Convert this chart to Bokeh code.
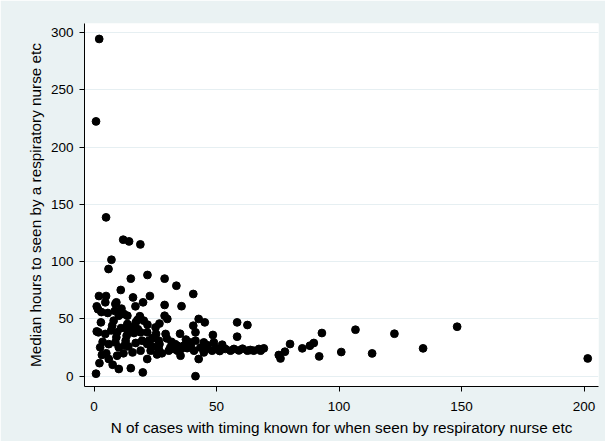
from bokeh.plotting import figure
from bokeh.models import FixedTicker, ColumnDataSource
from bokeh.embed import file_html
from bokeh.resources import INLINE

# N of cases with timing known (x) and median hours to seen by respiratory nurse (y)
n_cases = [
    2.1, 0.8, 4.9, 11.9, 14.3, 18.9, 7.1, 5.9, 21.8, 15.0, 28.8, 33.6, 10.9, 40.5,
    2.0, 4.9, 15.9, 22.8, 20.0, 9.1, 4.6, 8.7, 28.8, 35.7, 16.9, 1.1, 1.6, 11.2,
    12.2, 5.6, 18.7, 28.8, 29.9, 10.1, 13.6, 17.7, 20.3, 8.0, 2.8, 17.0, 13.6, 7.4,
    25.1, 42.7, 45.2, 58.4, 62.6, 40.5, 35.1, 41.4, 48.5, 58.4, 1.1, 1.8, 4.6, 9.4,
    9.1, 13.3, 14.3, 16.3, 19.0, 21.7, 25.3, 29.2, 8.7, 12.9, 19.6, 22.4, 26.4, 21.7,
    2.5, 10.1, 15.7, 19.0, 23.1, 26.4, 30.5, 34.0, 3.2, 9.4, 21.7, 2.2, 7.6, 10.1,
    15.0, 19.9, 0.8,
    32.6, 34.0, 36.6, 39.4, 40.8, 35.3, 44.8, 44.8, 42.7, 41.4, 48.2, 48.9, 52.3,
    53.6, 55.7, 57.1, 62.6, 63.8, 65.2, 67.3, 68.0, 69.3, 75.4, 76.1, 77.9, 80.0,
    85.0, 88.1, 89.7, 91.9, 93.0, 100.9, 106.7, 113.5, 122.6, 134.3, 148.2, 201.5,
    31.1, 35.6, 38.0, 39.5, 43.4, 45.9, 49.8, 51.3, 59.1, 60.6, 46.4, 37.5, 41.4,
    12.0, 14.0, 17.0, 23.8, 26.7, 13.0, 6.0, 5.0, 23.8, 27.7, 31.6, 29.7, 11.0,
    16.0, 21.8, 26.7, 7.0, 6.0, 3.5, 8.5, 17.9, 24.7, 33.1, 3.0, 12.5, 25.7,
]
median_hours = [
    294.5, 222.5, 138.7, 119.2, 117.7, 115.1, 101.7, 93.6, 88.4, 85.2, 85.2, 79.0, 75.3, 71.8,
    70.0, 70.0, 68.8, 70.0, 64.5, 64.5, 64.5, 63.1, 62.2, 61.1, 61.0, 61.0, 58.5, 59.0,
    54.3, 55.2, 52.4, 52.8, 50.0, 52.8, 52.8, 49.1, 48.5, 48.5, 47.0, 47.0, 45.6, 44.1,
    42.6, 50.0, 47.0, 47.0, 44.7, 44.1, 37.1, 38.3, 36.0, 34.5, 39.1, 38.3, 36.9, 38.3,
    33.9, 35.4, 38.3, 37.7, 38.3, 38.3, 36.9, 36.9, 29.5, 31.0, 31.0, 31.0, 31.0, 28.1,
    25.2, 25.2, 20.8, 22.3, 22.3, 23.8, 22.3, 22.3, 18.6, 17.9, 15.0, 11.4, 10.0, 6.3,
    7.0, 3.3, 2.2,
    23.8, 26.6, 26.6, 29.5, 22.3, 17.9, 29.5, 20.8, 15.0, 0.0, 22.3, 29.5, 27.5,
    23.8, 22.3, 23.8, 22.3, 22.9, 22.3, 23.8, 22.3, 24.3, 18.5, 15.5, 21.4, 28.1,
    24.3, 26.6, 29.0, 17.3, 37.7, 21.1, 40.6, 19.9, 37.1, 24.3, 43.2, 15.5,
    25.0, 24.0, 24.5, 26.0, 25.0, 24.0, 24.5, 22.0, 22.5, 24.0, 27.0, 32.0, 31.0,
    20.0, 26.0, 29.0, 26.0, 28.0, 42.0, 28.0, 20.0, 33.0, 20.0, 30.0, 33.0, 42.0,
    43.0, 45.0, 46.0, 40.0, 15.0, 30.0, 57.0, 41.0, 34.0, 28.0, 56.0, 27.0, 19.0,
]

x_ticks = [0, 50, 100, 150, 200]
y_ticks = [0, 50, 100, 150, 200, 250, 300]
x_title = "N of cases with timing known for when seen by respiratory nurse etc"
y_title = "Median hours to seen by a respiratory nurse etc"

source = ColumnDataSource(data=dict(x=n_cases, y=median_hours))

p = figure(width=605, height=441, output_backend="svg", toolbar_location=None,
           x_range=(-3.9, 205.9), y_range=(-9, 308))
p.min_border_left = 84
p.min_border_right = 7
p.min_border_top = 23
p.min_border_bottom = 55
p.border_fill_color = "#EAF2F3"
p.background_fill_color = "white"
p.outline_line_color = None

p.scatter("x", "y", source=source, size=7.8, color="black", line_color="black")

font = "Liberation Sans"
for ax in (p.xaxis[0], p.yaxis[0]):
    ax.axis_line_color = "black"
    ax.axis_line_width = 1
    ax.major_tick_line_color = "black"
    ax.major_tick_out = 5
    ax.major_tick_in = 0
    ax.minor_tick_line_color = None
    ax.major_label_text_font = font
    ax.major_label_text_font_size = "13.5px"
    ax.major_label_text_color = "black"
    ax.axis_label_text_font = font
    ax.axis_label_text_font_size = "15.3px"
    ax.axis_label_text_font_style = "normal"
    ax.axis_label_text_color = "black"

p.xaxis[0].ticker = FixedTicker(ticks=x_ticks)
p.yaxis[0].ticker = FixedTicker(ticks=y_ticks)
p.xaxis[0].axis_label = x_title
p.yaxis[0].axis_label = y_title
p.xaxis[0].major_label_standoff = 10
p.xaxis[0].axis_label_standoff = 5
p.yaxis[0].major_label_standoff = 6
p.yaxis[0].axis_label_standoff = 4
p.yaxis[0].major_label_orientation = "horizontal"

p.xgrid.grid_line_color = None
p.ygrid.grid_line_color = "#E6EFF2"
p.ygrid.grid_line_width = 1

open("out.html", "w").write(file_html(p, INLINE))
